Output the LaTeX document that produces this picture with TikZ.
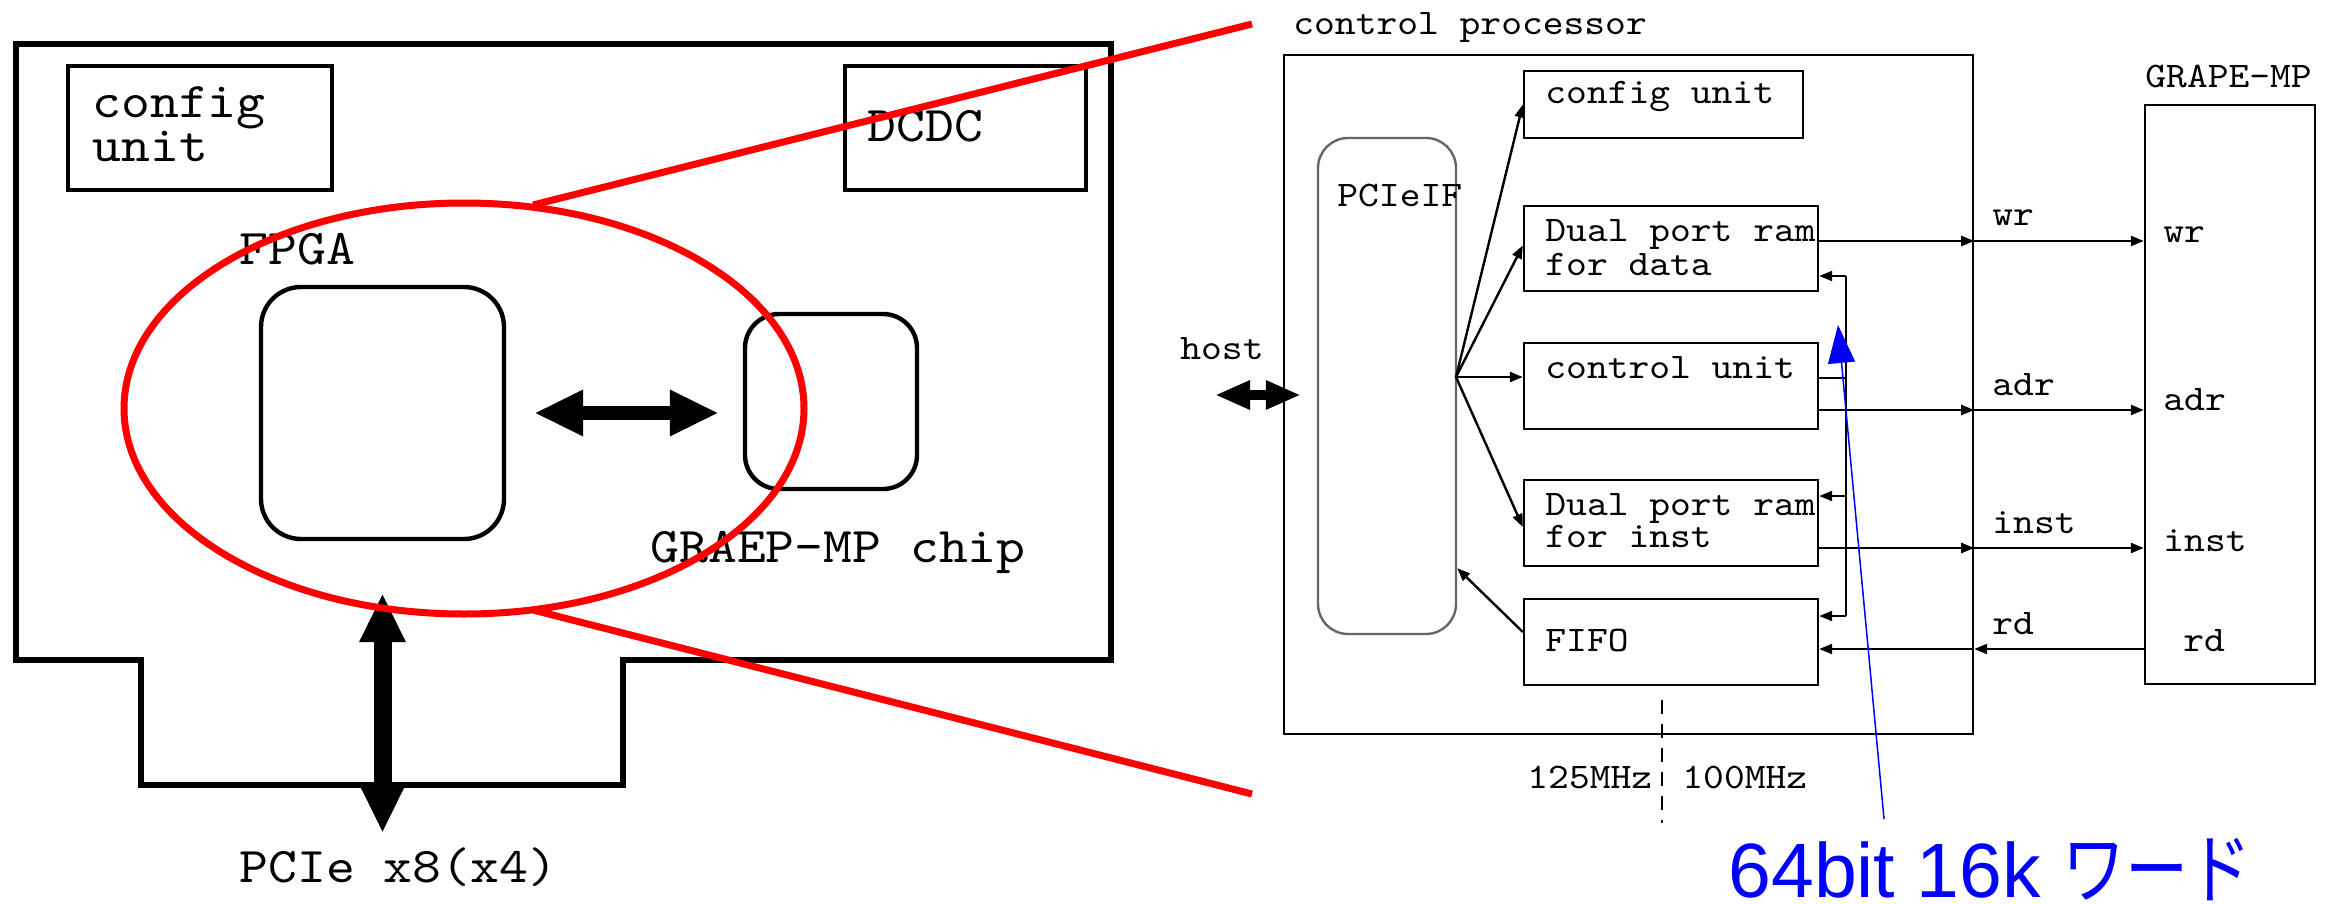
\documentclass[tikz,border=0pt]{standalone}
\usepackage{fontspec}
\newfontfamily\cour[FakeStretch=1.1]{lmmono10-regular.otf}
\newfontfamily\lsans{Liberation Sans}
\newfontfamily\jpfont{Noto Sans CJK JP}
\usetikzlibrary{arrows.meta,calc,shapes.geometric}
\begin{document}
\begin{tikzpicture}[x=0.5pt,y=-0.5pt,
  bigtxt/.style={inner sep=0pt, anchor=base west, font=\cour\fontsize{25pt}{27pt}\selectfont},
  smtxt/.style={inner sep=0pt, anchor=base west, font=\cour\fontsize{18pt}{20pt}\selectfont},
  lbox/.style={draw, line width=2pt, inner sep=0pt},
  rbox/.style={draw, line width=1.2pt, inner sep=0pt},
  arr/.style={line width=1.2pt, -{Triangle[length=6.5pt,width=5pt]}},
  plain/.style={line width=1.2pt},
  bigarr/.style={line width=#1, {Triangle[length=24.5pt,width=21.5pt]}-{Triangle[length=24.5pt,width=21.5pt]}},
  hostarr/.style={line width=5pt, {Triangle[length=17.5pt,width=13.5pt]}-{Triangle[length=17.5pt,width=13.5pt]}},
  redline/.style={draw=red, line width=3.5pt},
]
\useasboundingbox (0,0) rectangle (2334,904);
\fill[white] (0,0) rectangle (2334,904);

% ---------------- left: board ----------------
\draw[line width=3pt, line join=miter] (16,44) -- (1111,44) -- (1111,660) -- (623,660) -- (623,785) -- (141,785) -- (141,660) -- (16,660) -- cycle;
\node[lbox, minimum width=132pt, minimum height=62pt] (lcfg) at (200,128) {};
\node[lbox, minimum width=120.5pt, minimum height=62pt] (dcdc) at (965.5,128) {};
\node[lbox, line width=2.2pt, rounded corners=20pt, minimum width=121.5pt, minimum height=126pt] (fpga) at (382.5,413) {};
\node[lbox, line width=2.2pt, rounded corners=17pt, minimum width=86pt, minimum height=87.5pt] (chip) at (831,401.5) {};

\node[bigtxt, text depth=0pt] (tcfg1) at (92,118) {config};
\node[bigtxt] (tcfg2) at (92,162) {unit};
\node[bigtxt] (tdcdc) at (867,141) {DCDC};
\node[bigtxt] (tfpga) at (239,264) {FPGA};
\node[bigtxt] (tchip) at (650,562) {GRAEP-MP chip};
\node[bigtxt] (tpcie) at (239,882) {PCIe x8(x4)};

\coordinate (pcieEnd) at (382.5,833);
\draw[bigarr=7pt, shorten <=14pt, shorten >=12pt] (fpga.east) -- (fpga.east -| chip.west);
\draw[bigarr=9pt, shorten <=26pt] (fpga.south) -- (pcieEnd);

% ---------------- right: control processor ----------------
\node[smtxt] (tcp) at (1293,35) {control processor};
\node[rbox, minimum width=344.5pt, minimum height=339.5pt] (cp) at (1628.5,394.5) {};
\node[rbox, draw=black!60, rounded corners=15pt, minimum width=69pt, minimum height=248pt] (pcieif) at (1387,386) {};
\node[rbox, minimum width=139.5pt, minimum height=33.5pt] (cfg) at (1663.5,104.5) {};
\node[rbox, minimum width=147pt, minimum height=42.5pt] (dpd) at (1671,248.5) {};
\node[rbox, minimum width=147pt, minimum height=43pt] (cu) at (1671,386) {};
\node[rbox, minimum width=147pt, minimum height=43pt] (dpi) at (1671,523) {};
\node[rbox, minimum width=147pt, minimum height=43pt] (fifo) at (1671,642) {};
\node[rbox, minimum width=85pt, minimum height=289.5pt] (grape) at (2230,394.5) {};

\node[smtxt] (tpcieif) at (1337,206) {PCIeIF};
\node[smtxt] (tcfg) at (1545,104) {config unit};
\node[smtxt] (tdpd1) at (1545,241) {Dual port ram};
\node[smtxt] (tdpd2) at (1545,275) {for data};
\node[smtxt] (tcu) at (1545,378) {control unit};
\node[smtxt] (tdpi1) at (1545,515) {Dual port ram};
\node[smtxt] (tdpi2) at (1545,547) {for inst};
\node[smtxt] (tfifo) at (1545,651) {FIFO};
\node[smtxt] (thost) at (1180,359) {host};
\node[smtxt] (tgrape) at (2145,88) {GRAPE-MP};
\node[smtxt] (lwr) at (1992,225) {wr};
\node[smtxt] (ladr) at (1992,395) {adr};
\node[smtxt] (linst) at (1992,533) {inst};
\node[smtxt] (lrd) at (1992,634) {rd};
\node[smtxt] (gwr) at (2163,242) {wr};
\node[smtxt] (gadr) at (2163,410) {adr};
\node[smtxt] (ginst) at (2163,551) {inst};
\node[smtxt] (grd) at (2183,651) {rd};
\node[smtxt] (t125) at (1527,788) {125MHz};
\node[smtxt] (t100) at (1682,788) {100MHz};

% host arrow
\coordinate (hostL) at (1215,395);
\draw[hostarr, shorten >=8pt] (hostL) -- (hostL -| pcieif.west);

% fan-out from PCIeIF
\coordinate (fan) at (1456,377);
\draw[arr] (fan) -- (cfg.west);
\draw[arr] (fan) -- ($(dpd.west)+(0,-3)$);
\draw[arr] (fan) -- (fan -| cu.west);
\draw[arr] (fan) -- ($(dpi.west)+(0,4)$);
\draw[arr] ($(fifo.west)+(0,-10)$) -- ($(pcieif.south east)+(0,-67)$);

% internal bus
\coordinate (busT) at (1846,276);
\coordinate (busI) at (1846,496);
\coordinate (busB) at (1846,616);
\coordinate (busC) at (1846,378);
\draw[plain] (busT) -- (busB);
\draw[plain] (busC -| cu.east) -- (busC);
\draw[arr] (busT) -- (busT -| dpd.east);
\draw[arr] (busI) -- (busI -| dpi.east);
\draw[arr] (busB) -- (busB -| fifo.east);

% signals to GRAPE-MP
\coordinate (rwr) at (0,241);
\coordinate (radr) at (0,410);
\coordinate (rinst) at (0,548);
\coordinate (rrd) at (0,649);
\draw[arr] (dpd.east |- rwr) -- (cp.east |- rwr);
\draw[arr] (cp.east |- rwr) -- (grape.west |- rwr);
\draw[arr] (cu.east |- radr) -- (cp.east |- radr);
\draw[arr] (cp.east |- radr) -- (grape.west |- radr);
\draw[arr] (dpi.east |- rinst) -- (cp.east |- rinst);
\draw[arr] (cp.east |- rinst) -- (grape.west |- rinst);
\draw[arr] (grape.west |- rrd) -- (cp.east |- rrd);
\draw[arr] (cp.east |- rrd) -- (fifo.east |- rrd);

% clock domain boundary
\coordinate (dashT) at (1662,700);
\coordinate (dashB) at (1662,823);
\draw[line width=1.2pt, dash pattern=on 7pt off 5pt] (dashT) -- (dashB);

% ---------------- red zoom ellipse ----------------
\draw[redline] (464,408.5) ellipse [x radius=170pt, y radius=102.75pt];
\coordinate (e1) at (533,205);
\coordinate (e2) at (533,610);
\coordinate (z1) at (1252,24);
\coordinate (z2) at (1252,794);
\draw[redline] (e1) -- (z1);
\draw[redline] (e2) -- (z2);

% ---------------- blue annotation ----------------
\node[inner sep=0pt, anchor=base west, text depth=0pt, text=blue, font=\fontsize{38.5pt}{40pt}\selectfont] (note) at (1728,897) {\lsans 64bit 16k \scalebox{0.82}[1]{\jpfont ワード}};
\coordinate (btail) at (1884,819);
\coordinate (btip) at (1838,325);
\draw[blue, line width=0.75pt, -{Triangle[length=19pt,width=13.5pt]}] (btail) -- (btip);
\end{tikzpicture}
\end{document}
